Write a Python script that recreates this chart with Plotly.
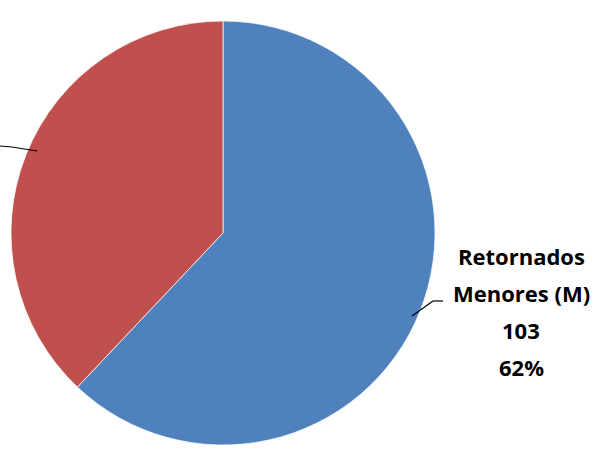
import plotly.graph_objects as go

W, H = 596, 451

labels = ["Retornados Menores (M)", "Retornados Menores (F)"]
values = [103, 63]
colors = ["#4F81BD", "#C0504D"]
label_lines = ["Retornados", "Menores (M)", "103", "62%"]


def px(x):
    return x / W


def py(y):
    return 1 - y / H


cx, cy, r = 223, 233, 212

fig = go.Figure(
    go.Pie(
        labels=labels,
        values=values,
        sort=False,
        direction="clockwise",
        rotation=0,
        marker=dict(colors=colors, line=dict(color="rgba(255,255,255,0.7)", width=1)),
        textinfo="none",
        hoverinfo="label+value+percent",
        showlegend=False,
        domain=dict(x=[px(cx - r), px(cx + r)], y=[py(cy + r), py(cy - r)]),
    )
)

ys = [256, 293, 330, 367]
for txt, y in zip(label_lines, ys):
    fig.add_annotation(
        x=px(521), y=py(y), xref="paper", yref="paper",
        text="<b>%s</b>" % txt, showarrow=False,
        font=dict(family="Open Sans, sans-serif", size=22, color="#000000"),
        xanchor="center", yanchor="middle",
    )

# leader lines
fig.add_shape(type="line", xref="paper", yref="paper",
              x0=px(412), y0=py(316), x1=px(433), y1=py(301),
              line=dict(color="#000000", width=1.2))
fig.add_shape(type="line", xref="paper", yref="paper",
              x0=px(433), y0=py(301), x1=px(443), y1=py(301),
              line=dict(color="#000000", width=1.2))
fig.add_shape(type="line", xref="paper", yref="paper",
              x0=px(0), y0=py(146), x1=px(12), y1=py(147),
              line=dict(color="#000000", width=1.2))
fig.add_shape(type="line", xref="paper", yref="paper",
              x0=px(12), y0=py(147), x1=px(37), y1=py(151),
              line=dict(color="#000000", width=1.2))

fig.update_layout(
    width=W, height=H,
    margin=dict(l=0, r=0, t=0, b=0),
    paper_bgcolor="#FFFFFF",
    plot_bgcolor="#FFFFFF",
)

fig.write_html(
    "out.html",
    config={"displayModeBar": False},
    post_script="document.body.style.margin='0';document.body.style.padding='0';",
)
